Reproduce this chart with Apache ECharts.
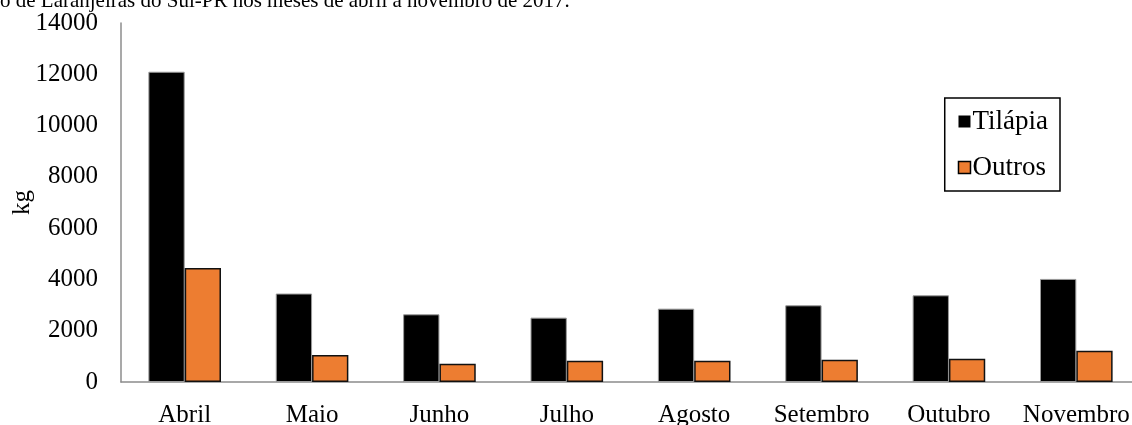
<!DOCTYPE html>
<html>
<head>
<meta charset="utf-8">
<script src="https://cdn.jsdelivr.net/npm/echarts@6/dist/echarts.min.js"></script>
<style>
  html, body { margin: 0; padding: 0; background: #fff; }
  #chart { width: 1132px; height: 425px; }
</style>
</head>
<body>
<div id="chart"></div>
<script>
// Monthly landings (kg), April to November
const months = ['Abril', 'Maio', 'Junho', 'Julho', 'Agosto', 'Setembro', 'Outubro', 'Novembro'];
const tilapia = [12100, 3450, 2640, 2510, 2860, 2990, 3380, 4020];
const outros = [4450, 1050, 710, 830, 830, 870, 910, 1220];
const yTicks = { min: 0, max: 14000, interval: 2000 };
const captionText = 'o de Laranjeiras do Sul-PR nos meses de abril a novembro de 2017.';

const serif = '"Liberation Serif", "Times New Roman", serif';
const chart = echarts.init(document.getElementById('chart'), null, { renderer: 'canvas' });

chart.setOption({
  backgroundColor: '#ffffff',
  animation: false,
  textStyle: { fontFamily: serif, color: '#000' },
  graphic: [{
    type: 'text',
    left: 0,
    top: -9,
    style: { text: captionText, font: '21px ' + serif, fill: '#000' }
  }],
  legend: {
    orient: 'vertical',
    right: 72,
    top: 98,
    padding: [10, 12, 10, 13],
    itemGap: 19,
    itemWidth: 12,
    itemHeight: 12,
    borderColor: '#000',
    borderWidth: 1.5,
    icon: 'rect',
    textStyle: { fontFamily: serif, fontSize: 27, color: '#000', padding: [0, 0, 0, -3] },
    data: [
      { name: 'Tilápia', itemStyle: { color: '#000', borderColor: '#000', borderWidth: 0 } },
      { name: 'Outros', itemStyle: { color: '#ED7D31', borderColor: '#000', borderWidth: 1.5 } }
    ]
  },
  grid: { left: 121, right: -8, top: 23, bottom: 43, containLabel: false, outerBoundsMode: 'none' },
  xAxis: {
    type: 'category',
    data: months,
    axisLine: { lineStyle: { color: '#8c8c8c', width: 1.5 } },
    axisTick: { show: false },
    axisLabel: { fontFamily: serif, fontSize: 25, color: '#000', margin: 21, interval: 0 }
  },
  yAxis: {
    type: 'value',
    min: yTicks.min,
    max: yTicks.max,
    interval: yTicks.interval,
    name: 'kg',
    nameLocation: 'middle',
    nameGap: 86,
    nameMoveOverlap: false,
    nameRotate: 90,
    nameTextStyle: { fontFamily: serif, fontSize: 25, color: '#000' },
    axisLine: { show: true, lineStyle: { color: '#8c8c8c', width: 1.5 } },
    axisTick: { show: false },
    splitLine: { show: false },
    axisLabel: { fontFamily: serif, fontSize: 25, color: '#000', margin: 23, formatter: v => String(v) }
  },
  series: [
    {
      name: 'Tilápia',
      type: 'bar',
      data: tilapia,
      barGap: '0%',
      barCategoryGap: '43%',
      itemStyle: { color: '#000000', borderColor: '#9a9a9a', borderWidth: 1 }
    },
    {
      name: 'Outros',
      type: 'bar',
      data: outros,
      itemStyle: { color: '#ED7D31', borderColor: '#111111', borderWidth: 1.5 }
    }
  ]
});
</script>
</body>
</html>
